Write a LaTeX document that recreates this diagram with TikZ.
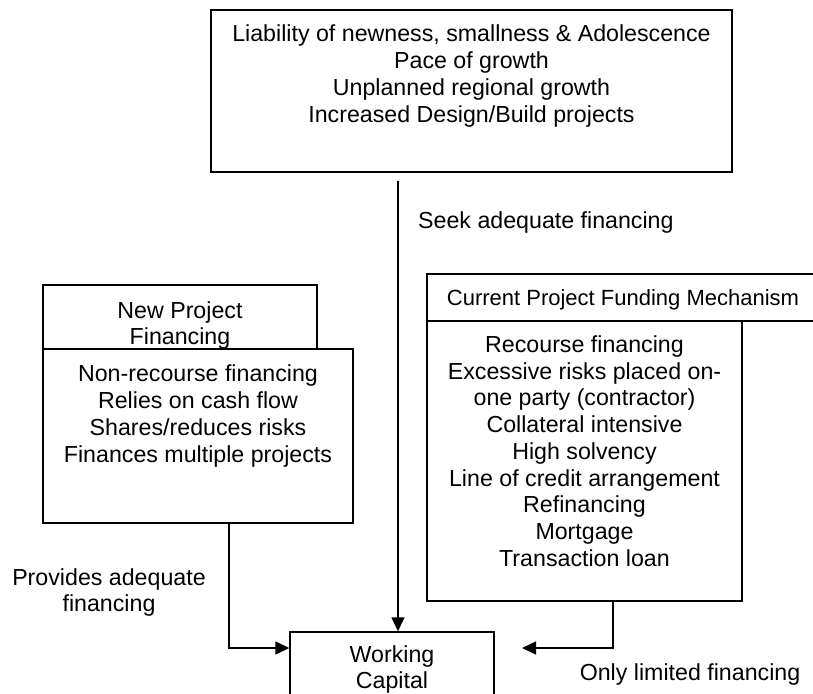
\documentclass[tikz,border=0pt]{standalone}
\usepackage{fontspec}
\setmainfont{Liberation Sans}
\usetikzlibrary{arrows.meta}
\tikzset{
  box/.style={draw, line width=1.4pt, inner sep=0pt, fill=none},
  txt/.style={align=center, inner sep=0pt, font=\fontsize{23.2}{26.7}\selectfont},
  hdrtxt/.style={align=center, inner sep=0pt, font=\fontsize{22}{25.3}\selectfont},
  arr/.style={line width=1.4pt, -{Triangle[length=14pt,width=13pt]}},
  plain/.style={line width=1.4pt}
}
\begin{document}
\begin{tikzpicture}[x=1pt,y=-1pt]
\useasboundingbox (0,0) rectangle (813,693);
\clip (0,0) rectangle (813,693);
% boxes
\node[box, minimum width=521pt, minimum height=162pt] (top) at (471.5,91) {};
\node[box, minimum width=274pt, minimum height=64pt] (nph) at (180,317) {};
\node[box, minimum width=310pt, minimum height=174pt] (npb) at (198,436) {};
\node[box, minimum width=392pt, minimum height=47pt] (cph) at (623,297.5) {};
\node[box, minimum width=315pt, minimum height=280pt] (cpb) at (584.5,461) {};
\node[box, minimum width=204pt, minimum height=90pt] (wc) at (392,677) {};
% texts
\node[txt] (toptxt) at (471.5,76) {Liability of newness, smallness \& Adolescence\\Pace of growth\\Unplanned regional growth\\Increased Design/Build projects};
\node[txt] (nphtxt) at (180,325.5) {New Project\\Financing};
\node[txt] (npbtxt) at (198,416) {Non-recourse financing\\Relies on cash flow\\Shares/reduces risks\\Finances multiple projects};
\node[hdrtxt] (cphtxt) at (623,299.5) {Current Project Funding Mechanism};
\node[txt] (cpbtxt) at (584.5,451) {Recourse financing\\Excessive risks placed on-\\one party (contractor)\\Collateral intensive\\High solvency\\Line of credit arrangement\\Refinancing\\Mortgage\\Transaction loan};
\node[txt] (wctxt) at (392,669.5) {Working\\Capital};
% connector labels
\node[txt, anchor=west] (seek) at (418,222) {Seek adequate financing};
\node[txt] (prov) at (109,592.5) {Provides adequate\\financing};
\node[txt] (only) at (690,674) {Only limited financing};
% connectors
\coordinate (s1) at (398,181);
\draw[arr] (s1) -- (s1 |- wc.north);
\coordinate (n1) at (229,648);
\draw[arr] (n1 |- npb.south) -- (n1) -- (n1 -| wc.west);
\coordinate (c1) at (613,648);
\coordinate (c2) at (522,648);
\draw[arr] (c1 |- cpb.south) -- (c1) -- (c2);
\end{tikzpicture}
\end{document}
